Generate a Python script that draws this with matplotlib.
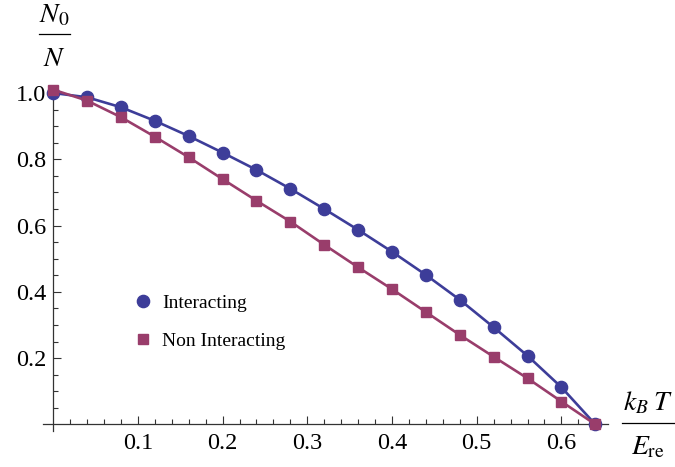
import numpy as np
import matplotlib
matplotlib.use('Agg')
import matplotlib.pyplot as plt
from matplotlib.lines import Line2D
from matplotlib.ticker import FixedLocator

plt.rcParams['font.family'] = 'serif'
plt.rcParams['font.serif'] = ['Liberation Serif', 'DejaVu Serif']
plt.rcParams['mathtext.fontset'] = 'stix'

# reduced temperature k_B T / E_re
temperature = [0.00, 0.04, 0.08, 0.12, 0.16, 0.20, 0.24, 0.28, 0.32,
               0.36, 0.40, 0.44, 0.48, 0.52, 0.56, 0.60, 0.64]
# condensate fraction N0/N
interacting = [1.000, 0.987, 0.957, 0.916, 0.870, 0.820, 0.768, 0.711, 0.650,
               0.587, 0.521, 0.451, 0.376, 0.293, 0.207, 0.112, 0.000]
non_interacting = [1.010, 0.977, 0.927, 0.868, 0.806, 0.740, 0.675, 0.612, 0.542,
                   0.474, 0.408, 0.339, 0.270, 0.204, 0.139, 0.069, 0.000]

blue = '#3d3d99'
purple = '#993d6b'

fig = plt.figure(figsize=(6.75, 4.67), dpi=100)
W, H = 675, 467
ax = fig.add_axes([43 / W, 1 - 431 / H, (608 - 43) / W, (431 - 88) / H])

ax.plot(temperature, interacting, color=blue, lw=1.9, marker='o', ms=8.8,
        clip_on=False, zorder=3)
ax.plot(temperature, non_interacting, color=purple, lw=1.9, marker='s', ms=7.2,
        clip_on=False, zorder=4)

ax.set_xlim(-0.012, 0.655)
ax.set_ylim(-0.02, 1.015)

# axes crossing at the origin
for side in ('top', 'right'):
    ax.spines[side].set_visible(False)
ax.spines['left'].set_position(('data', 0))
ax.spines['bottom'].set_position(('data', 0))
for side in ('left', 'bottom'):
    ax.spines[side].set_color('#333333')
    ax.spines[side].set_linewidth(0.9)

ax.xaxis.set_major_locator(FixedLocator([0.1, 0.2, 0.3, 0.4, 0.5, 0.6]))
ax.xaxis.set_minor_locator(FixedLocator(np.arange(1, 33) * 0.02))
ax.yaxis.set_major_locator(FixedLocator([0.2, 0.4, 0.6, 0.8, 1.0]))
ax.yaxis.set_minor_locator(FixedLocator(np.arange(1, 21) * 0.05))
ax.xaxis.set_major_formatter(plt.FormatStrFormatter('%.1f'))
ax.yaxis.set_major_formatter(plt.FormatStrFormatter('%.1f'))
ax.tick_params(which='both', direction='in', color='#333333', width=0.8,
               labelsize=17.5)
ax.tick_params(which='major', length=6)
ax.tick_params(which='minor', length=3.5)
ax.tick_params(axis='x', pad=6)
ax.tick_params(axis='y', pad=5)


def fraction(x, y_num, y_bar, y_den, x0, x1, num, den):
    """Stacked axis label: numerator, rule, denominator (pixel coords)."""
    fig.text(x / W, 1 - y_num / H, num, fontsize=20, ha='center', va='center')
    fig.text(x / W, 1 - y_den / H, den, fontsize=20, ha='center', va='center')
    fig.add_artist(Line2D([x0 / W, x1 / W], [1 - y_bar / H, 1 - y_bar / H],
                          color='black', lw=0.9))


fraction(54, 16, 34, 59, 39, 70, r'$N_0$', r'$N$')
fraction(648, 403, 423, 448, 622, 675, r'$k_B\;T$', r'$E_{\rm re}$')

handles = [
    Line2D([], [], color=blue, marker='o', ms=8.8, ls='none'),
    Line2D([], [], color=purple, marker='s', ms=7.2, ls='none'),
]
fig.legend(handles, ['Interacting', 'Non Interacting'], frameon=False,
           loc='center left', bbox_to_anchor=(133 / W, 1 - 322 / H),
           fontsize=14, handlelength=1.0, handletextpad=0.5,
           labelspacing=1.05, borderpad=0, borderaxespad=0)

fig.savefig('out.png', dpi=100)
